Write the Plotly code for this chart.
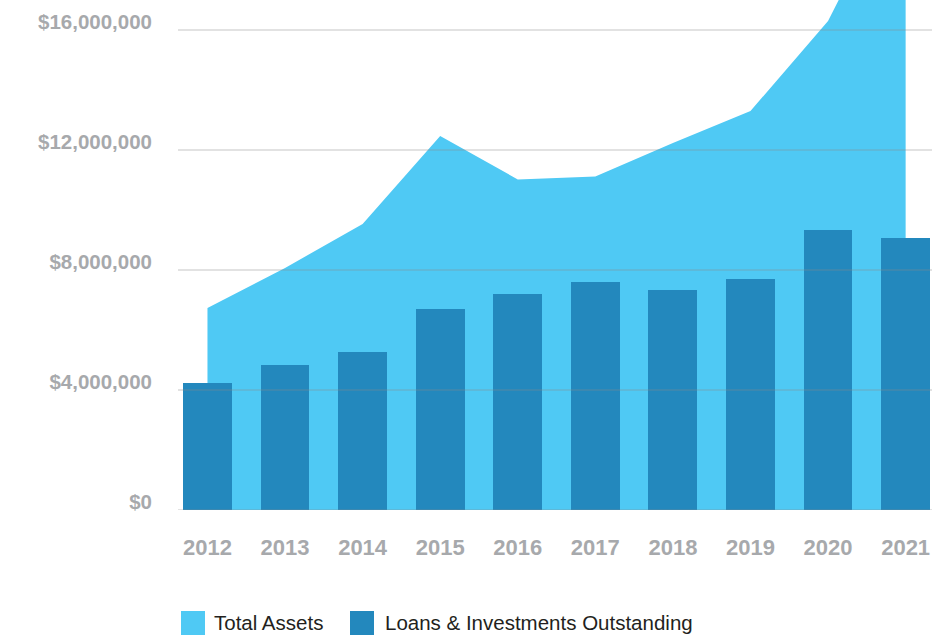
import plotly.graph_objects as go

# Annual figures (USD)
years = [2012, 2013, 2014, 2015, 2016, 2017, 2018, 2019, 2020, 2021]
total_assets = [6730000, 8070000, 9530000, 12470000, 11020000, 11120000,
                12230000, 13300000, 16300000, 21400000]
loans_investments = [4230000, 4830000, 5270000, 6700000, 7200000, 7600000,
                     7330000, 7700000, 9330000, 9070000]

y_ticks = [0, 4000000, 8000000, 12000000, 16000000]
y_tick_labels = ["$0", "$4,000,000", "$8,000,000", "$12,000,000", "$16,000,000"]

series_names = ["Total Assets", "Loans & Investments Outstanding"]
colors = ["#4fc9f4", "#2388bd"]

FONT = "Liberation Sans, Arial, sans-serif"
TICK_GREY = "#a7a9ac"

W, H = 950, 637
M_L, M_R, M_T, M_B = 178, 18, 0, 127
PW, PH = W - M_L - M_R, H - M_T - M_B
X_RANGE = [2011.62, 2021.34]
Y_RANGE = [0, 17000000]


def px_x(px):
    return (px - M_L) / PW


def px_y(py):
    return (M_T + PH - py) / PH


fig = go.Figure()

# area on the base axes
fig.add_trace(go.Scatter(
    x=years, y=total_assets, mode="lines", fill="tozeroy",
    line=dict(width=0, color=colors[0]), fillcolor=colors[0],
    name=series_names[0], showlegend=False, hoverinfo="skip",
))

# bars on an overlaid pair of axes so they are painted above the area
fig.add_trace(go.Bar(
    x=years, y=loans_investments, width=0.63,
    marker=dict(color=colors[1], line=dict(width=0)),
    name=series_names[1], showlegend=False,
    xaxis="x2", yaxis="y2",
))

# gridlines sit on top of the area and bars
shapes = []
for v in y_ticks:
    shapes.append(dict(
        type="line", xref="paper", yref="y", x0=0, x1=1, y0=v, y1=v,
        line=dict(color="rgba(140,140,140,0.33)", width=1.5), layer="above",
    ))

# legend swatches
annotations = []
legend_items = [(181, 212), (350, 383)]
for (sx, tx), name, col in zip(legend_items, series_names, colors):
    shapes.append(dict(
        type="rect", xref="paper", yref="paper",
        x0=px_x(sx), x1=px_x(sx + 24), y0=px_y(611), y1=px_y(635),
        fillcolor=col, line=dict(width=0),
    ))
    annotations.append(dict(
        xref="paper", yref="paper", x=px_x(tx), y=px_y(622),
        xanchor="left", yanchor="middle", showarrow=False, text=name,
        font=dict(family=FONT, size=20.5, color="#231f20"),
    ))

hidden = dict(showgrid=False, zeroline=False, showline=False,
              showticklabels=False, ticks="")

fig.update_layout(
    width=W, height=H,
    margin=dict(l=M_L, r=M_R, t=M_T, b=M_B, pad=0),
    paper_bgcolor="white", plot_bgcolor="white",
    showlegend=False,
    bargap=0,
    shapes=shapes,
    annotations=annotations,
    xaxis=dict(
        range=X_RANGE, tickvals=years,
        ticktext=[str(y) for y in years],
        showgrid=False, zeroline=False, showline=False, ticks="",
        ticklabelstandoff=22,
        tickfont=dict(family=FONT, size=22, color=TICK_GREY, weight=600),
    ),
    yaxis=dict(
        range=Y_RANGE, tickvals=y_ticks, ticktext=y_tick_labels,
        showgrid=False, zeroline=False, showline=False, ticks="",
        ticklabelstandoff=25, ticklabelshift=-8,
        tickfont=dict(family=FONT, size=20.5, color=TICK_GREY, weight=600),
    ),
    xaxis2=dict(range=X_RANGE, overlaying="x", **hidden),
    yaxis2=dict(range=Y_RANGE, overlaying="y", anchor="x2", **hidden),
)

fig.write_html("out.html")
